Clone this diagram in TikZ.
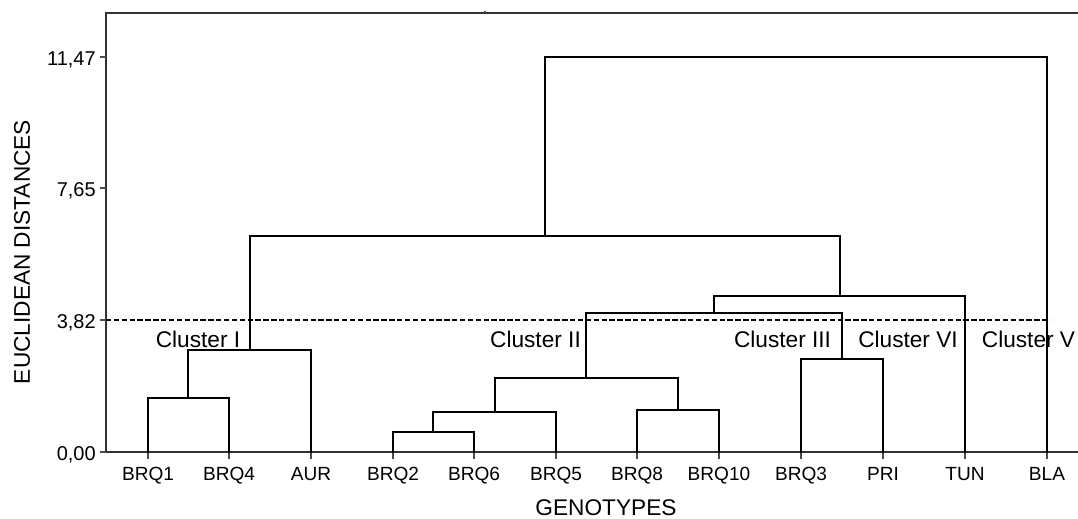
\documentclass[tikz,border=0pt]{standalone}
\usepackage{fontspec}
\setmainfont{Liberation Sans}
\begin{document}
\begin{tikzpicture}[x=0.75pt,y=-0.75pt,
  dend/.style={line width=1.8pt,black,line cap=rect},
  axisline/.style={line width=1pt,black!80},
  ticks/.style={line width=0.8pt,black!70},
  cutline/.style={line width=1.2pt,black,dash pattern=on 4pt off 1.9pt},
  leaflab/.style={font=\fontsize{14.3}{16}\selectfont,inner sep=0pt,anchor=base},
  ticklab/.style={font=\fontsize{15}{17}\selectfont,inner sep=0pt,anchor=base east},
  clulab/.style={font=\fontsize{17}{20}\selectfont,inner sep=0pt,anchor=base},
  axtitle/.style={font=\fontsize{17}{20}\selectfont,inner sep=0pt}]
\useasboundingbox (0,0) rectangle (1078,518);
% axes
\coordinate (o) at (106,452);
\coordinate (tl) at (106,13);
\coordinate (tr) at (1078,13);
\coordinate (br) at (1078,452);
\draw[axisline] (tr) -- (tl) -- (o) -- (br);
\draw[ticks] (485,11) -- (485,13);
% y ticks
\foreach \y in {452,320,188,57}{
  \draw[ticks] (100,\y) -- (106,\y);
}
\node[ticklab] (t0) at (96,460) {0,00};
\node[ticklab] (t1) at (96,328) {3,82};
\node[ticklab] (t2) at (96,196) {7,65};
\node[ticklab] (t3) at (96,65) {11,47};
\coordinate (cutW) at (106,320);
% leaves
\foreach \n/\x in {a/148,b/229,c/311,d/393,e/474,f/556,g/637,h/719,i/801,j/883,k/965,l/1047}{
  \coordinate (\n) at (\x,452);
  \draw[ticks] (\x,452) -- (\x,459);
}
\node[leaflab] (la) at (148,480) {BRQ1};
\node[leaflab] (lb) at (229,480) {BRQ4};
\node[leaflab] (lc) at (311,480) {AUR};
\node[leaflab] (ld) at (393,480) {BRQ2};
\node[leaflab] (le) at (474,480) {BRQ6};
\node[leaflab] (lf) at (556,480) {BRQ5};
\node[leaflab] (lg) at (637,480) {BRQ8};
\node[leaflab] (lh) at (719,480) {BRQ10};
\node[leaflab] (li) at (801,480) {BRQ3};
\node[leaflab] (lj) at (883,480) {PRI};
\node[leaflab] (lk) at (965,480) {TUN};
\node[leaflab] (ll) at (1047,480) {BLA};
% merge points
\coordinate (m14) at (188,398);
\coordinate (mI) at (250,350);
\coordinate (m26) at (433,432);
\coordinate (m265) at (495,412);
\coordinate (m810) at (678,410);
\coordinate (mII) at (586,378);
\coordinate (m3P) at (842,359);
\coordinate (mIIb) at (714,313);
\coordinate (mT) at (840,296);
\coordinate (mA) at (545,236);
\coordinate (root) at (796,57);
% cut line
\coordinate (cutE) at (1050,320);
\draw[cutline] (cutW) -- (cutE);
% dendrogram
\draw[dend] (a) |- (m14) -| (b);
\draw[dend] (m14) |- (mI) -| (c);
\draw[dend] (d) |- (m26) -| (e);
\draw[dend] (m26) |- (m265) -| (f);
\draw[dend] (g) |- (m810) -| (h);
\draw[dend] (m265) |- (mII) -| (m810);
\draw[dend] (i) |- (m3P) -| (j);
\draw[dend] (mII) |- (mIIb) -| (m3P);
\draw[dend] (mIIb) |- (mT) -| (k);
\draw[dend] (mI) |- (mA) -| (mT);
\draw[dend] (mA) |- (root) -| (l);
% cluster labels
\node[clulab] (c1) at (198,347) {Cluster I};
\node[clulab] (c2) at (535.5,347) {Cluster II};
\node[clulab] (c3) at (782.5,347) {Cluster III};
\node[clulab] (c4) at (908,347) {Cluster VI};
\node[clulab] (c5) at (1028.5,347) {Cluster V};
% axis titles
\node[axtitle,rotate=90] (ytitle) at (22,252) {EUCLIDEAN DISTANCES};
\node[axtitle,anchor=base] (xtitle) at (606,515) {GENOTYPES};
\end{tikzpicture}
\end{document}
